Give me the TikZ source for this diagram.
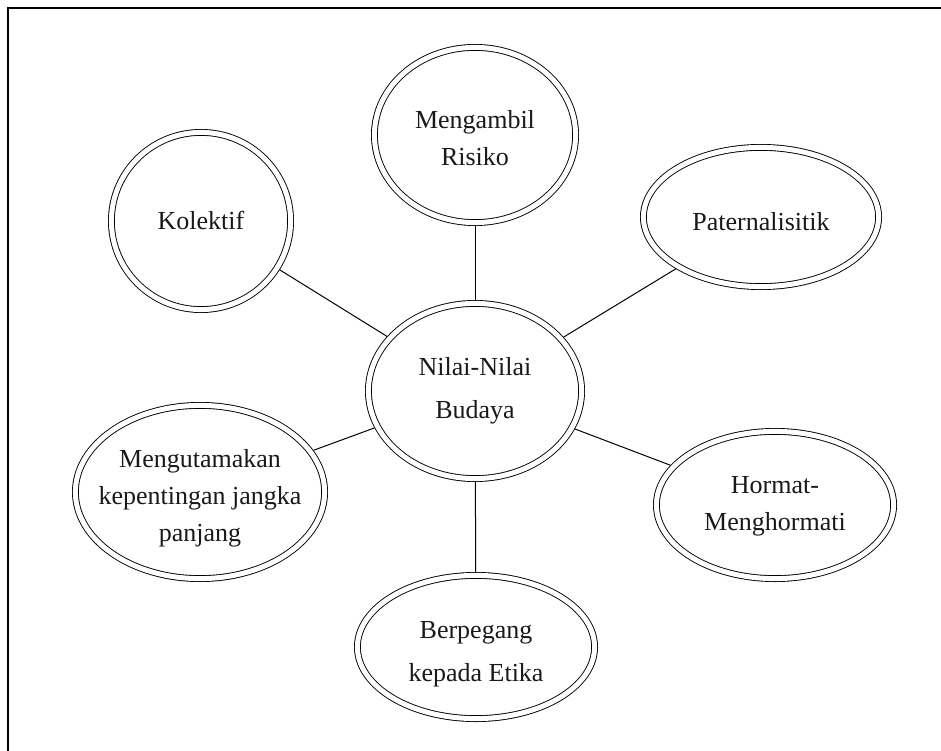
\documentclass[tikz,border=0pt]{standalone}
\usepackage{fontspec}
\setmainfont{Liberation Serif}
\usetikzlibrary{shapes.geometric}
\tikzset{
  bub/.style={ellipse, draw=black, line width=0.9pt, double=white, double distance=5pt, inner sep=0pt, outer sep=3.4pt},
  txt/.style={align=center, inner sep=0pt, text=black!90, font=\fontsize{26}{37}\selectfont},
  txtw/.style={align=center, inner sep=0pt, text=black!90, font=\fontsize{26}{43}\selectfont},
  conn/.style={draw=black, line width=1pt},
  frame/.style={draw=black, line width=1.5pt}
}
\begin{document}
\begin{tikzpicture}[x=1pt, y=-1pt]
\useasboundingbox (0,0) rectangle (941,751);
\coordinate (fr1) at (8,751);
\coordinate (fr2) at (8,8);
\coordinate (fr3) at (941,8);
\draw[frame] (fr1) -- (fr2) -- (fr3);

\node[bub, minimum width=2*89.6pt, minimum height=2*88.6pt] (kol) at (201,221) {};
\node[bub, minimum width=2*100.6pt, minimum height=2*87.6pt] (amb) at (475,135) {};
\node[bub, minimum width=2*117.6pt, minimum height=2*69.6pt] (pat) at (761,217) {};
\node[bub, minimum width=2*106.6pt, minimum height=2*87.6pt] (nil) at (475,391) {};
\node[bub, minimum width=2*124.6pt, minimum height=2*86.6pt] (utm) at (200,492) {};
\node[bub, minimum width=2*118.6pt, minimum height=2*73.6pt] (hor) at (775,505) {};
\node[bub, minimum width=2*118.6pt, minimum height=2*71.6pt] (ber) at (476,647) {};

\node[txt] (kolT) at (201,220) {Kolektif};
\node[txt] (ambT) at (475,138) {Mengambil\\Risiko};
\node[txt] (patT) at (761,222) {Paternalisitik};
\node[txtw] (nilT) at (475,391) {Nilai-Nilai\\Budaya};
\node[txt] (utmT) at (200,498) {Mengutamakan\\kepentingan jangka\\panjang};
\node[txt] (horT) at (775,506) {Hormat-\\Menghormati};
\node[txtw] (berT) at (476,654) {Berpegang\\kepada Etika};

\draw[conn] (nil) -- (kol);
\draw[conn] (nil) -- (amb);
\draw[conn] (nil) -- (pat);
\draw[conn] (nil) -- (utm);
\draw[conn] (nil) -- (hor);
\draw[conn] (nil) -- (ber);
\end{tikzpicture}
\end{document}
